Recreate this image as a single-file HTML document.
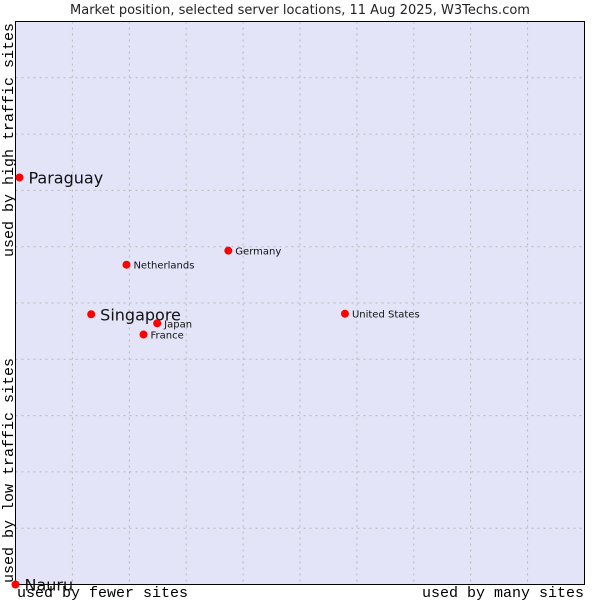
<!DOCTYPE html>
<html><head><meta charset="utf-8"><style>
body{margin:0;background:#fff;}
svg{display:block;}
</style></head><body>
<svg id="chart" width="600" height="600" xmlns="http://www.w3.org/2000/svg">
<text x="300" y="14" text-anchor="middle" font-family="DejaVu Sans, sans-serif" font-size="13" fill="#222">Market position, selected server locations, 11 Aug 2025, W3Techs.com</text>
<rect x="15.5" y="21.5" width="569" height="563" fill="#e3e4f8"/>
<g id="grid"></g>
<rect x="15.5" y="21.5" width="569" height="563" fill="none" stroke="#000" stroke-width="1"/>
<g id="points"></g>
<text x="17" y="597" font-family="Liberation Mono, monospace" font-size="15" fill="#000">used by fewer sites</text>
<text x="584" y="597" text-anchor="end" font-family="Liberation Mono, monospace" font-size="15" fill="#000">used by many sites</text>
<text transform="translate(13,583) rotate(-90)" font-family="Liberation Mono, monospace" font-size="15" fill="#000">used by low traffic sites</text>
<text transform="translate(13,23) rotate(-90)" text-anchor="end" font-family="Liberation Mono, monospace" font-size="15" fill="#000">used by high traffic sites</text>
</svg>
<script>
const names = ["Paraguay","Netherlands","Germany","Singapore","Japan","France","United States","Nauru"];
const xValues = [0.7,19.5,37.4,13.3,24.9,22.5,57.9,0];
const yValues = [72.3,56.8,59.3,48.0,46.4,44.4,48.1,0];
const highlighted = [true,false,false,true,false,false,false,true];
const NS="http://www.w3.org/2000/svg";
const L=15.5,R=584.5,T=21.5,B=584.5;
const sx=v=>L+(R-L)*v/100, sy=v=>B-(B-T)*v/100;
const grid=document.getElementById('grid');
for(let i=1;i<10;i++){
  const v=document.createElementNS(NS,'line');
  
  
  v.setAttribute('x1',sx(i*10));v.setAttribute('x2',sx(i*10));v.setAttribute('y1',T);v.setAttribute('y2',B);
  v.setAttribute('stroke','#b8b8b8');v.setAttribute('stroke-dasharray','2,4');
  grid.appendChild(v);
  const h=document.createElementNS(NS,'line');
  
  
  h.setAttribute('y1',sy(i*10));h.setAttribute('y2',sy(i*10));h.setAttribute('x1',L);h.setAttribute('x2',R);
  h.setAttribute('stroke','#b8b8b8');h.setAttribute('stroke-dasharray','2,4');
  grid.appendChild(h);
}
const pts=document.getElementById('points');
names.forEach((n,i)=>{
  const x=sx(xValues[i]),y=sy(yValues[i]);
  const c=document.createElementNS(NS,'circle');
  
  
  c.setAttribute('cx',x);c.setAttribute('cy',y);c.setAttribute('r',4);c.setAttribute('fill','#f00');
  pts.appendChild(c);
  const t=document.createElementNS(NS,'text');
  
  
  const big=highlighted[i];
  t.setAttribute('x',x+(big?9:7));t.setAttribute('y',y+(big?6:4));
  t.setAttribute('font-family','DejaVu Sans, sans-serif');
  t.setAttribute('font-size',big?16:10);
  t.setAttribute('fill','#111');
  t.textContent=n;
  pts.appendChild(t);
});
</script>
</body></html>
